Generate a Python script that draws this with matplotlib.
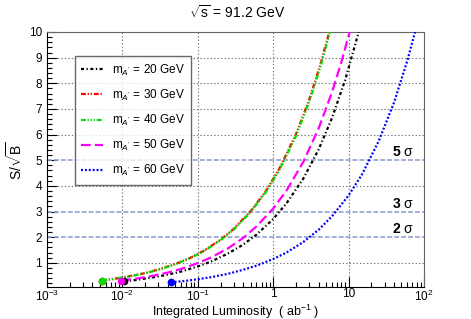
import numpy as np
import matplotlib
matplotlib.use("Agg")
import matplotlib.pyplot as plt
from matplotlib.ticker import FixedLocator, MultipleLocator, LogLocator, FuncFormatter, NullFormatter

plt.rcParams['font.family'] = ['Liberation Sans', 'DejaVu Sans']
plt.rcParams['mathtext.fontset'] = 'custom'
plt.rcParams['mathtext.rm'] = 'Liberation Sans'
plt.rcParams['mathtext.it'] = 'Liberation Sans:italic'
plt.rcParams['mathtext.bf'] = 'Liberation Sans:bold'
plt.rcParams['lines.scale_dashes'] = False

# luminosity (ab^-1) and significance
lumi_20 = [0.0106, 0.015, 0.025, 0.04, 0.06, 0.1, 0.15, 0.25, 0.4, 0.6, 1, 1.5, 2.5, 4, 6, 9, 13.6]
sig_20 = [0.28, 0.33, 0.43, 0.54, 0.66, 0.86, 1.05, 1.36, 1.71, 2.10, 2.71, 3.32, 4.28, 5.42, 6.64, 8.13, 10.0]

lumi_30 = [0.0054, 0.008, 0.012, 0.02, 0.03, 0.05, 0.08, 0.12, 0.2, 0.3, 0.5, 0.8, 1.2, 2, 3, 4.2, 5.54]
sig_30 = [0.31, 0.38, 0.47, 0.60, 0.74, 0.95, 1.20, 1.47, 1.90, 2.33, 3.01, 3.80, 4.66, 6.01, 7.36, 8.71, 10.0]

lumi_40 = [0.0054, 0.008, 0.012, 0.02, 0.03, 0.05, 0.08, 0.12, 0.2, 0.3, 0.5, 0.8, 1.2, 2, 3, 4.2, 5.67]
sig_40 = [0.31, 0.38, 0.46, 0.59, 0.73, 0.94, 1.19, 1.45, 1.88, 2.30, 2.97, 3.76, 4.60, 5.94, 7.27, 8.61, 10.0]

lumi_50 = [0.0097, 0.015, 0.025, 0.04, 0.06, 0.1, 0.15, 0.25, 0.4, 0.6, 1, 1.5, 2.5, 4, 6, 8, 10.3]
sig_50 = [0.31, 0.38, 0.49, 0.62, 0.76, 0.99, 1.21, 1.56, 1.97, 2.42, 3.12, 3.82, 4.93, 6.24, 7.64, 8.82, 10.0]

lumi_60 = [0.0438, 0.07, 0.1, 0.15, 0.25, 0.4, 0.6, 1, 1.5, 2.5, 4, 6, 10, 15, 25, 40, 60, 76]
sig_60 = [0.24, 0.30, 0.36, 0.44, 0.57, 0.73, 0.89, 1.15, 1.40, 1.81, 2.29, 2.81, 3.63, 4.44, 5.74, 7.25, 8.88, 10.0]

masses = [20, 30, 40, 50, 60]
sigma_levels = [2, 3, 5]

fig = plt.figure(figsize=(4.71, 3.19), dpi=100)
ax = fig.add_axes([0.0998, 0.1013, 0.8005, 0.7984])

ax.set_xscale('log')
ax.set_xlim(1e-3, 1e2)
ax.set_ylim(0.07, 10)

# grid
for xv in [1e-2, 1e-1, 1, 10]:
    ax.axvline(xv, color='#777777', lw=0.8, ls=(0, (1, 1.5)), zorder=1)
for yv in range(1, 10):
    if yv not in sigma_levels:
        ax.axhline(yv, color='#777777', lw=0.8, ls=(0, (1, 1.5)), zorder=1)

# sigma lines
for s in sigma_levels:
    ax.axhline(s, color='#8fa3cc', lw=1.2, ls=(0, (3.5, 1.5)), zorder=2)
    ax.text(38, s + 0.03, r"$\mathbf{%d}$ $\mathregular{\sigma}$" % s, fontsize=10,
            ha='left', va='bottom')

lumis = [lumi_20, lumi_30, lumi_40, lumi_50, lumi_60]
sigs = [sig_20, sig_30, sig_40, sig_50, sig_60]
colors = ['black', 'red', '#00e000', 'magenta', 'blue']
dashes = [(0, (2.2, 1.8, 0.9, 1.8)),
          (0, (3.5, 1.3, 0.9, 1.3, 0.9, 1.3)),
          (0, (3.5, 1.3, 0.9, 1.3, 0.9, 1.3, 0.9, 1.3)),
          (0, (7, 3)),
          (0, (1.4, 1.4))]
order = [0, 3, 4, 1, 2]
handles = [None] * 5
for i in order:
    ln, = ax.plot(lumis[i], sigs[i], color=colors[i], lw=1.6, ls=dashes[i], zorder=3)
    ax.plot(lumis[i][0], sigs[i][0], 'o', color=colors[i], ms=4.5, zorder=4)
    handles[i] = ln

labels = [r"m$_{A'}$ = %d GeV" % m for m in masses]
leg = ax.legend(handles, labels, loc='upper left', bbox_to_anchor=(0.074, 0.906),
                fontsize=8.5, frameon=True, fancybox=False, handlelength=1.8,
                labelspacing=0.85, borderpad=0.55, handletextpad=0.75, borderaxespad=0)
leg.get_frame().set_edgecolor('#444444')
leg.get_frame().set_linewidth(1.0)

# ticks
ax.yaxis.set_major_locator(FixedLocator(range(1, 11)))
ax.yaxis.set_minor_locator(MultipleLocator(0.2))
ax.xaxis.set_major_locator(LogLocator(base=10, numticks=10))
ax.xaxis.set_minor_locator(LogLocator(base=10, subs=np.arange(2, 10), numticks=20))
ax.xaxis.set_minor_formatter(NullFormatter())


def fmt(v, pos):
    e = int(round(np.log10(v)))
    if e == 0:
        return "1"
    if e == 1:
        return "10"
    return r"10$^{%d}$" % e


ax.xaxis.set_major_formatter(FuncFormatter(fmt))
ax.tick_params(which='both', direction='in', top=False, right=False, labelsize=8.5)
ax.tick_params(which='major', length=7, width=0.8)
ax.tick_params(which='minor', length=3.5, width=0.8)
ax.tick_params(axis='x', pad=1.2)

for sp in ['top', 'right']:
    ax.spines[sp].set_color('#666666')

ax.set_xlabel(r"Integrated Luminosity  ( ab$^{-1}$ )", fontsize=9)
ax.xaxis.label.set_va('center')
ax.xaxis.set_label_coords(0.5, -0.099)
ax.set_ylabel(r"S/$\mathregular{\sqrt{B}}$", fontsize=10)
ax.yaxis.label.set_va('center')
ax.yaxis.set_label_coords(-0.085, 0.497)
fig.text(0.503, 0.962, r"$\mathregular{\sqrt{s}}$ = 91.2 GeV", fontsize=10, ha='center', va='center')

fig.savefig("out.png", dpi=100)
